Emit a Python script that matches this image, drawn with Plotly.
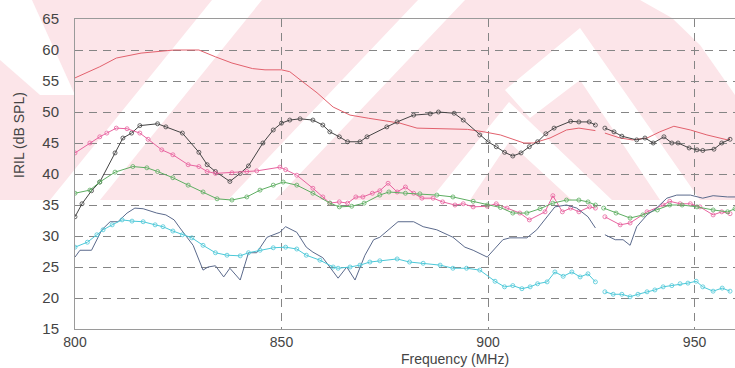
import plotly.graph_objects as go

# ---------------- data ----------------
red_x1 = [800, 806, 810, 816, 824, 830, 834, 838, 843, 846, 850, 852, 854.5, 858.6, 862.5, 866.6, 871, 878.7, 882.8, 895, 899, 903, 908.7, 911, 915, 919, 922, 926]
red_y1 = [55.5, 57.3, 58.7, 59.5, 60.0, 60.0, 58.9, 57.9, 57.0, 56.8, 56.8, 56.5, 55.2, 53.1, 50.8, 49.5, 49.0, 48.2, 47.4, 47.2, 46.8, 46.3, 45.0, 45.0, 45.8, 47.1, 47.4, 47.0]
red_x2 = [928.3, 932, 935, 938.5, 941.6, 945, 949, 953, 958, 958.6]
red_y2 = [46.6, 45.8, 45.5, 45.8, 46.8, 47.7, 47.1, 46.3, 45.5, 45.8]

blk_x1 = [800, 801.7, 804, 806, 809.7, 811.6, 813.7, 815.7, 820, 822, 826, 830, 832, 834, 837.5, 840, 842, 845.5, 848, 850, 852, 854.5, 857.6, 860, 861.7, 864, 866, 869, 870.7, 875.5, 878, 882, 886, 888, 891.8, 894, 898, 900, 902, 904, 906, 908, 910, 912, 914, 916, 920, 922, 924.5, 926]
blk_y1 = [33.1, 35.2, 37.3, 38.7, 43.4, 45.8, 46.6, 47.8, 48.1, 47.6, 46.6, 43.5, 41.5, 40.4, 38.8, 40.1, 41.3, 45.0, 47.1, 48.2, 48.7, 48.9, 48.7, 47.9, 46.8, 46.0, 45.2, 45.2, 46.0, 47.6, 48.4, 49.5, 49.7, 50.0, 49.8, 48.7, 46.3, 45.2, 44.4, 43.5, 42.9, 43.4, 44.4, 45.2, 46.5, 47.4, 48.5, 48.4, 48.4, 47.9]
blk_x2 = [928.3, 930.5, 932.4, 936, 938, 940, 942.6, 944.5, 946, 948.7, 950.6, 952, 954.7, 956.6, 958.6]
blk_y2 = [47.4, 46.8, 46.1, 45.5, 45.8, 45.0, 46.0, 45.0, 45.0, 44.2, 43.9, 43.8, 44.0, 45.0, 45.6]

mag_x1 = [800, 803.6, 806, 807.7, 810, 812.6, 815.7, 817.7, 821, 823.7, 827.4, 830, 832, 834, 838, 841.6, 844, 849.6, 851, 853.7, 857.6, 860, 861.7, 864, 866, 868, 869.7, 872, 873.8, 875.8, 878, 880, 882, 884, 886.7, 889, 892, 894, 896.4, 899.8, 902, 904.6, 907.7, 910, 913.8, 915.7, 918, 920, 922, 924.6, 926]
mag_y1 = [43.4, 45.0, 46.0, 46.6, 47.4, 47.3, 46.6, 45.6, 43.9, 43.1, 41.5, 41.2, 40.4, 40.1, 40.2, 40.4, 40.5, 41.1, 40.7, 39.8, 37.7, 36.3, 35.3, 35.5, 35.3, 36.3, 36.3, 36.9, 37.3, 38.5, 37.1, 37.9, 36.9, 36.1, 36.1, 35.5, 35.0, 35.2, 34.7, 34.8, 35.2, 34.5, 33.7, 32.6, 33.9, 36.5, 33.9, 34.5, 33.9, 34.7, 34.5]
mag_x2 = [928.3, 932, 934.4, 938.5, 942.4, 944, 946.5, 949, 951.3, 954.5, 956.6, 958.6]
mag_y2 = [33.1, 31.8, 32.1, 33.9, 35.0, 35.6, 35.2, 35.2, 34.7, 33.4, 33.9, 33.6]

grn_x1 = [800, 803.6, 806, 809.7, 814, 817.4, 820, 823.7, 827.4, 831, 834.4, 838, 841.6, 844.8, 848, 850.4, 853.7, 857.6, 861.7, 864, 867, 870, 873.8, 876, 880, 883.5, 887.6, 891.5, 896.4, 899.8, 903, 906, 909.4, 912.6, 915.7, 919, 922, 924.2, 926]
grn_y1 = [36.9, 37.4, 38.7, 40.3, 41.2, 41.0, 40.4, 39.4, 38.2, 37.1, 36.0, 35.8, 36.3, 37.4, 38.2, 38.7, 38.2, 36.9, 35.3, 34.7, 34.8, 35.3, 36.6, 37.1, 36.9, 36.8, 36.6, 36.3, 35.6, 35.0, 34.6, 33.7, 33.7, 34.4, 35.3, 35.8, 35.8, 35.5, 35.0]
grn_x2 = [928, 931, 934.4, 937.5, 941, 944, 947, 950.6, 954.5, 958, 959.8]
grn_y2 = [34.5, 33.7, 32.9, 33.4, 34.2, 35.0, 35.0, 34.7, 34.2, 33.9, 34.4]

blu_x1 = [800, 801.2, 804, 805.3, 806.5, 808.5, 810.4, 812.6, 814.5, 816.5, 819.8, 822, 824, 825.4, 827, 828.6, 831, 832.2, 834, 836, 837.5, 840, 842, 844, 846.5, 849.6, 851, 853.7, 856, 857.6, 860, 861.7, 863.7, 865.8, 867.8, 870.2, 872.3, 873.8, 876.3, 878.2, 882, 884.3, 887.6, 891.5, 894.4, 896.4, 899.8, 901.2, 903.6, 905.3, 909.4, 911.8, 914.3, 916.2, 919, 921.5, 924.2, 926]
blu_y1 = [26.6, 27.7, 27.7, 29.4, 31.0, 32.3, 32.3, 33.7, 34.5, 34.4, 33.7, 33.4, 32.6, 31.3, 29.8, 28.5, 24.5, 25.0, 25.2, 23.4, 24.8, 22.9, 27.3, 27.3, 29.8, 30.6, 31.5, 30.6, 28.2, 27.4, 26.5, 25.0, 23.2, 25.0, 22.9, 26.9, 29.4, 29.8, 31.3, 32.3, 32.3, 31.5, 31.0, 29.8, 28.2, 27.7, 26.6, 27.7, 29.4, 29.7, 29.7, 31.0, 33.1, 34.7, 35.0, 34.5, 33.1, 31.3]
blu_x2 = [928.3, 930.8, 932.7, 934.4, 936, 938.5, 940.8, 943.3, 945.7, 949, 952, 954.5, 958, 959.8]
blu_y2 = [30.2, 29.4, 29.4, 28.5, 31.5, 33.4, 34.5, 36.1, 36.6, 36.6, 36.1, 36.5, 36.3, 36.3]

cyn_x1 = [800, 803, 805.3, 806.8, 809, 811.4, 813.8, 816.5, 819.4, 821.3, 823.7, 826, 828.3, 831, 834, 836.8, 840, 842, 844.8, 848, 851, 853.7, 856, 859.3, 862.5, 863.7, 866.6, 869, 871.4, 873.8, 878, 881, 884.3, 888.4, 891.5, 894.8, 898, 901.7, 904, 906, 908.2, 910.2, 912, 914.3, 916.2, 918.2, 920.3, 922.3, 924.2, 926]
cyn_y1 = [28.2, 29.0, 30.2, 31.0, 31.8, 32.6, 32.4, 32.3, 31.8, 31.5, 30.8, 30.2, 29.7, 28.5, 27.3, 26.9, 26.8, 27.3, 27.7, 28.1, 28.2, 27.9, 26.9, 26.1, 25.0, 24.8, 25.0, 25.3, 25.8, 26.0, 26.3, 25.8, 25.6, 25.3, 24.8, 24.8, 24.5, 22.7, 21.8, 22.0, 21.5, 21.8, 22.3, 22.6, 24.2, 23.5, 24.2, 23.4, 23.9, 22.6]
cyn_x2 = [928.3, 930.3, 932.4, 934.4, 936.3, 938.5, 940.4, 942.4, 944.5, 946.5, 948.4, 950.4, 952, 954.5, 956.7, 958.6]
cyn_y2 = [21.0, 20.6, 20.6, 20.2, 20.6, 21.0, 21.3, 21.8, 22.0, 22.3, 22.4, 22.7, 21.8, 21.1, 21.6, 21.1]

y_ticks = [15, 20, 25, 30, 35, 40, 45, 50, 55, 60, 65]
x_ticks = [800, 850, 900, 950]

# ---------------- figure ----------------
W, H = 735, 368
L, R, T, B = 75, 0, 19, 39
PW, PH = W - L - R, H - T - B


def px(x):
    return (x - L) / PW


def py(y):
    return (H - B - y) / PH


fig = go.Figure()


def add_series(xs, ys, color, markers, name):
    fig.add_trace(go.Scatter(
        x=xs, y=ys, mode="lines+markers" if markers else "lines",
        line=dict(color=color, width=1),
        marker=dict(symbol="circle-open", size=4, color=color, line=dict(width=0.8)),
        name=name, showlegend=False, hoverinfo="skip"))


series = [
    (red_x1, red_y1, red_x2, red_y2, "#e2616d", False),
    (blk_x1, blk_y1, blk_x2, blk_y2, "#444444", True),
    (mag_x1, mag_y1, mag_x2, mag_y2, "#e8639f", True),
    (grn_x1, grn_y1, grn_x2, grn_y2, "#5eae62", True),
    (blu_x1, blu_y1, blu_x2, blu_y2, "#5b6a8c", False),
    (cyn_x1, cyn_y1, cyn_x2, cyn_y2, "#4cc8d8", True),
]
for i, (x1, y1, x2, y2, c, m) in enumerate(series):
    add_series(x1, y1, c, m, f"s{i}a")
    add_series(x2, y2, c, m, f"s{i}b")

# watermark (pixel coordinates -> paper)
pink = "#fce5e9"
white = "#ffffff"
shapes = []


def poly(points, color):
    d = "M " + " L ".join(f"{px(a):.4f},{py(b):.4f}" for a, b in points) + " Z"
    shapes.append(dict(type="path", path=d, xref="paper", yref="paper",
                       fillcolor=color, line=dict(width=0), layer="below"))


poly([(0, 0), (W, 0), (W, 200), (0, 200)], pink)
poly([(0, 0), (32, 0), (75, 95), (40, 95), (0, 60)], white)
poly([(50, 200), (100, 200), (262, 0), (212, 0)], white)
poly([(228, 200), (275, 200), (465, 0), (418, 0)], white)
poly([(430, 200), (509, 102), (612, 200), (572, 200), (509, 142), (470, 200)], white)
poly([(505, 90), (580, 28), (700, 200), (660, 200), (580, 80), (530, 118)], white)
poly([(640, 0), (735, 0), (735, 95), (700, 45), (672, 18)], white)

fig.update_layout(shapes=shapes)

grid = dict(showgrid=True, gridcolor="#858585", griddash="8px,6px", gridwidth=1)
fig.update_xaxes(range=[800, 959.8], tickvals=x_ticks, ticktext=[str(v) for v in x_ticks],
                 zeroline=False, showline=True, linecolor="#9a9a9a", linewidth=1, mirror=True,
                 ticks="", tickfont=dict(family="Liberation Sans, Arial", size=14, color="#444"),
                 **grid)
fig.update_yaxes(range=[15, 65], tickvals=y_ticks, ticktext=[str(v) for v in y_ticks],
                 zeroline=False, showline=True, linecolor="#9a9a9a", linewidth=1, mirror=True,
                 ticks="outside", ticklen=12, tickcolor="rgba(0,0,0,0)",
                 tickfont=dict(family="Liberation Sans, Arial", size=15, color="#444"),
                 **grid)

fig.add_annotation(text="Frequency (MHz)", xref="paper", yref="paper", x=px(455), y=py(359),
                   xanchor="center", yanchor="middle",
                   showarrow=False, font=dict(family="Liberation Sans, Arial", size=14, color="#444"))
fig.add_annotation(text="IRIL (dB SPL)", xref="paper", yref="paper", x=px(19), y=py(135),
                   xanchor="center", yanchor="middle",
                   textangle=-90, showarrow=False,
                   font=dict(family="Liberation Sans, Arial", size=14, color="#444"))

fig.update_layout(width=W, height=H, margin=dict(l=L, r=R, t=T, b=B, pad=0),
                  paper_bgcolor="white", plot_bgcolor="rgba(0,0,0,0)", showlegend=False)

fig.write_html("out.html")
